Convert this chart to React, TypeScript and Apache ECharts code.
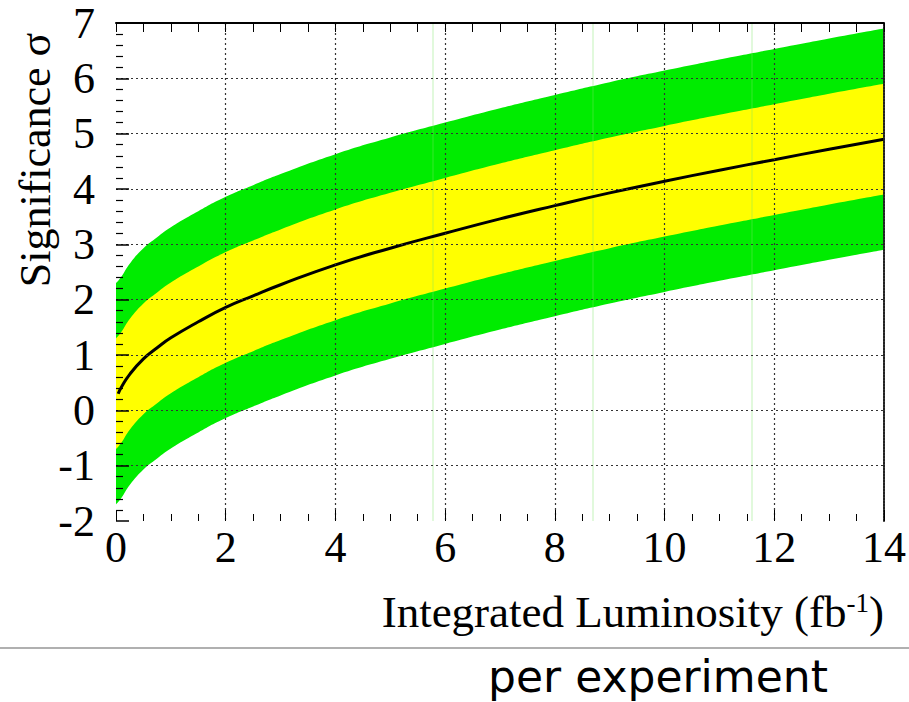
import React, { useEffect, useRef } from "react";
import * as echarts from "echarts";

// Integrated luminosity (fb^-1) sampled along the curve
const luminosity = [0, 0.1, 0.25, 0.5, 0.75, 1, 1.5, 2, 2.5, 3, 4, 5, 6, 7, 8, 9, 10, 11, 12, 13, 14];
// Median expected significance
const median = [0.3, 0.42, 0.65, 0.93, 1.13, 1.31, 1.6, 1.86, 2.07, 2.27, 2.63, 2.93, 3.2, 3.46, 3.7, 3.93, 4.14, 4.34, 4.53, 4.72, 4.9];
// Band edges
const plus2 = [2.3, 2.42, 2.65, 2.93, 3.13, 3.31, 3.6, 3.86, 4.07, 4.27, 4.63, 4.93, 5.2, 5.46, 5.7, 5.93, 6.14, 6.34, 6.53, 6.72, 6.9];
const plus1 = [1.3, 1.42, 1.65, 1.93, 2.13, 2.31, 2.6, 2.86, 3.07, 3.27, 3.63, 3.93, 4.2, 4.46, 4.7, 4.93, 5.14, 5.34, 5.53, 5.72, 5.9];
const minus1 = [-0.7, -0.58, -0.35, -0.07, 0.13, 0.31, 0.6, 0.86, 1.07, 1.27, 1.63, 1.93, 2.2, 2.46, 2.7, 2.93, 3.14, 3.34, 3.53, 3.72, 3.9];
const minus2 = [-1.7, -1.58, -1.35, -1.07, -0.87, -0.69, -0.4, -0.14, 0.07, 0.27, 0.63, 0.93, 1.2, 1.46, 1.7, 1.93, 2.14, 2.34, 2.53, 2.72, 2.9];

// Faint vertical streaks left by the band rendering
const streaks = [5.78, 8.69, 11.59];

const xTicks = { min: 0, max: 14, interval: 2 };
const yTicks = { min: -2, max: 7, interval: 1 };

const SERIF = "'Liberation Serif', 'Times New Roman', serif";
const GREEN = "#00ec00";
const YELLOW = "#ffff00";

const pairs = (ys: number[]) => luminosity.map((x, i) => [x, ys[i]]);

const band = (name: string, ys: number[], fill: string) => ({
  name,
  type: "line",
  data: pairs(ys),
  smooth: true,
  symbol: "none",
  lineStyle: { width: 0 },
  areaStyle: { color: fill, opacity: 1, origin: "start" },
  silent: true,
});

export default function App() {
  const ref = useRef<HTMLDivElement>(null);

  useEffect(() => {
    if (!ref.current) return;
    const chart = echarts.init(ref.current, null, { renderer: "svg" });
    const grid = "#333";
    chart.setOption({
      animation: false,
      backgroundColor: "#ffffff",
      grid: { left: 116, right: 23, top: 23, bottom: 181 },
      xAxis: [
        {
          type: "value",
          position: "bottom",
          ...xTicks,
          z: 10,
          axisLine: { show: false, onZero: false },
          axisTick: { show: true, inside: true, length: 11, lineStyle: { color: "#000", width: 1 } },
          minorTick: { show: true, splitNumber: 4, length: 7, lineStyle: { color: "#000", width: 1 } },
          axisLabel: { color: "#000", fontFamily: SERIF, fontSize: 44, margin: 4 },
          splitLine: {
            show: true,
            showMinLine: false,
            showMaxLine: false,
            lineStyle: { color: grid, width: 1.2, type: [2, 3] },
          },
        },
        {
          type: "value",
          position: "top",
          ...xTicks,
          z: 10,
          axisLine: { show: true, onZero: false, lineStyle: { color: "#000", width: 2 } },
          axisTick: { show: true, inside: true, length: 9, lineStyle: { color: "#000", width: 1 } },
          minorTick: { show: true, splitNumber: 4, length: 9, lineStyle: { color: "#000", width: 1 } },
          axisLabel: { show: false },
          splitLine: { show: false },
        },
      ],
      yAxis: [
        {
          type: "value",
          position: "left",
          ...yTicks,
          z: 10,
          axisLine: { show: false, onZero: false },
          axisTick: { show: true, inside: true, length: 13, lineStyle: { color: "#000", width: 1.5 } },
          minorTick: { show: true, splitNumber: 5, length: 7, lineStyle: { color: "#000", width: 1.2 } },
          axisLabel: { color: "#000", fontFamily: SERIF, fontSize: 44, margin: 21 },
          splitLine: {
            show: true,
            showMinLine: false,
            showMaxLine: false,
            lineStyle: { color: grid, width: 1.2, type: [2, 3] },
          },
        },
        {
          type: "value",
          position: "right",
          ...yTicks,
          z: 10,
          axisLine: { show: true, onZero: false, lineStyle: { color: "#222", width: 2, type: [2, 1] } },
          axisTick: { show: false },
          axisLabel: { show: false },
          splitLine: { show: false },
        },
      ],
      series: [
        band("+2σ", plus2, GREEN),
        band("+1σ", plus1, YELLOW),
        band("-1σ", minus1, GREEN),
        {
          ...band("-2σ", minus2, "#ffffff"),
          markLine: {
            silent: true,
            symbol: "none",
            label: { show: false },
            lineStyle: { color: "rgba(120,225,100,0.3)", width: 1.5, type: "solid" },
            data: streaks.map((x) => ({ xAxis: x })),
          },
        },
        {
          name: "median",
          type: "line",
          data: pairs(median).map((p, i) => (i === 0 ? [0.04, p[1]] : p)),
          smooth: true,
          symbol: "none",
          lineStyle: { color: "#000", width: 3 },
          z: 5,
        },
      ],
      graphic: [
        {
          type: "text",
          x: 35,
          y: 160,
          rotation: Math.PI / 2,
          style: {
            text: "Significance σ",
            fontFamily: SERIF,
            fontSize: 44,
            fill: "#000",
            align: "center",
            verticalAlign: "middle",
          },
        },
        {
          type: "text",
          x: 884,
          y: 612,
          style: {
            text: "Integrated Luminosity (fb{sup|-1})",
            fontFamily: SERIF,
            fontSize: 45,
            fill: "#000",
            align: "right",
            verticalAlign: "middle",
            rich: {
              sup: { fontFamily: SERIF, fontSize: 27, verticalAlign: "top", fill: "#000" },
            },
          },
        },
        {
          type: "line",
          shape: { x1: 0, y1: 648, x2: 909, y2: 648 },
          style: { stroke: "#b0b0b0", lineWidth: 2 },
        },
        {
          type: "text",
          x: 658,
          y: 676,
          style: {
            text: "per experiment",
            fontFamily: "'DejaVu Sans', 'Noto Sans', sans-serif",
            fontSize: 44,
            fill: "#000",
            align: "center",
            verticalAlign: "middle",
          },
        },
      ],
    });
    return () => chart.dispose();
  }, []);

  return (
    <div
      ref={ref}
      style={{ position: "absolute", left: 0, top: 0, width: 909, height: 702, background: "#fff" }}
    />
  );
}
